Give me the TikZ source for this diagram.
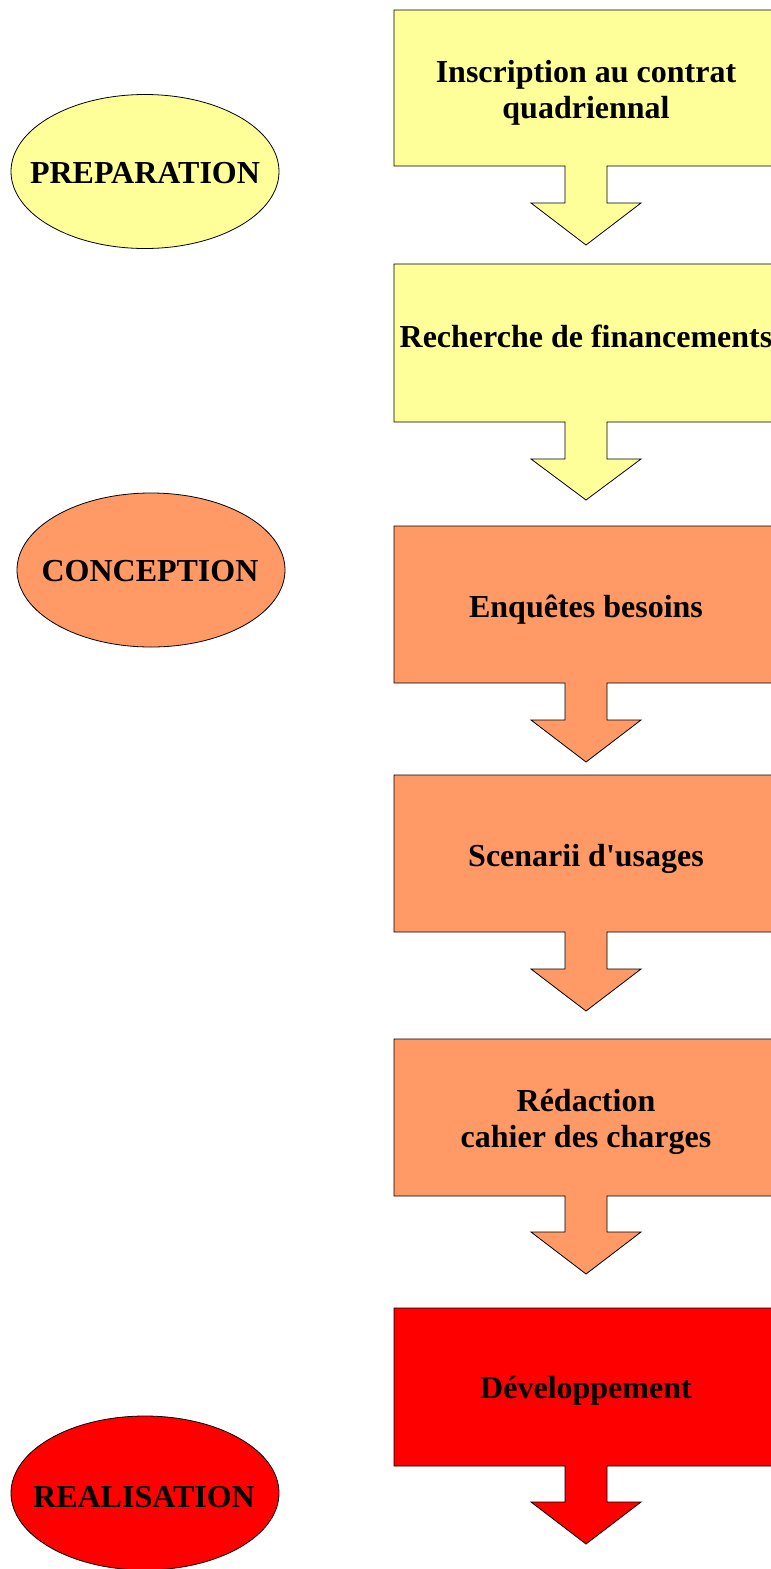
\documentclass[tikz,border=0pt]{standalone}
\usepackage{fontspec}
\setmainfont{Liberation Serif}[Ligatures=TeXOff]
\usetikzlibrary{shapes.geometric}
\definecolor{pyellow}{HTML}{FFFF99}
\definecolor{psalmon}{HTML}{FF9966}
\definecolor{pred}{HTML}{FF0000}
\newcommand\boxarrow[5]{%
  \path[stepshape, fill=#1] (394,#2) -- (778,#2) -- (778,#3) -- (607,#3) -- (607,#4) -- (641,#4) -- (586,#5) -- (531,#4) -- (565,#4) -- (565,#3) -- (394,#3) -- cycle;}
\begin{document}
\begin{tikzpicture}[x=1pt,y=-1pt,
  stepshape/.style={draw=black, line width=0.8pt, line join=miter},
  phase/.style={ellipse, draw=black, line width=0.8pt, minimum width=268pt, minimum height=154pt, inner sep=0pt},
  lbl/.style={font=\fontsize{32}{36}\selectfont\bfseries, inner sep=0pt, align=center, text=black}]
\useasboundingbox (0,0) rectangle (771,1569);
\clip (0,0) rectangle (771,1569);

\boxarrow{pyellow}{10}{166}{203}{245}
\boxarrow{pyellow}{264}{422}{459}{500}
\boxarrow{psalmon}{526}{683}{720}{762}
\boxarrow{psalmon}{775}{932}{969}{1011}
\boxarrow{psalmon}{1039}{1196}{1232}{1274}
\boxarrow{pred}{1308}{1466}{1502}{1544}

\node[lbl] (s1) at (586,92.6) {Inscription au contrat\\quadriennal};
\node[lbl, anchor=base] (s2) at (586,347) {Recherche de financements};
\node[lbl, anchor=base] (s3) at (586,617) {Enquêtes besoins};
\node[lbl, anchor=base] (s4) at (586,866) {Scenarii d'usages};
\node[lbl] (s5) at (586,1121.4) {Rédaction\\cahier des charges};
\node[lbl, anchor=base] (s6) at (586,1398) {Développement};

\node[phase, fill=pyellow] (pE) at (145,171.5) {};
\node[lbl, anchor=base] (pT) at (145,183) {PREPARATION};
\node[phase, fill=psalmon] (cE) at (151,570) {};
\node[lbl, anchor=base] (cT) at (150,581) {CONCEPTION};
\node[phase, fill=pred] (rE) at (145,1493) {};
\node[lbl, anchor=base] (rT) at (144,1507) {REALISATION};
\end{tikzpicture}
\end{document}
